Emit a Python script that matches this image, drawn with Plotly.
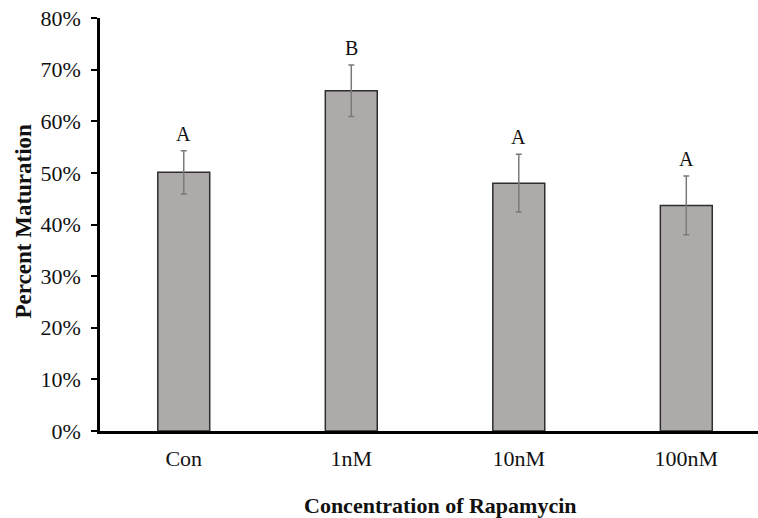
import plotly.graph_objects as go

categories = ["Con", "1nM", "10nM", "100nM"]
values = [0.501, 0.659, 0.480, 0.437]
errors = [0.042, 0.050, 0.056, 0.057]
letters = ["A", "B", "A", "A"]
y_ticks = [0, 0.1, 0.2, 0.3, 0.4, 0.5, 0.6, 0.7, 0.8]

FONT = "Liberation Serif, Times New Roman, serif"
W, H = 758, 518
L, R, T, B = 100, 0, 18, 87

fig = go.Figure()
fig.add_trace(go.Bar(
    x=list(range(len(categories))),
    y=values,
    marker=dict(color="#AEAAA9", line=dict(color="#2e2e2e", width=1.5)),
    error_y=dict(type="data", array=errors, visible=True, color="#7a7a7a",
                 thickness=1.5, width=3),
    width=0.31,
    hoverinfo="skip",
))

for i, (v, e, t) in enumerate(zip(values, errors, letters)):
    fig.add_annotation(x=i, y=v + e, xref="x", yref="y", text=t, showarrow=False,
                       yanchor="middle", yshift=17,
                       font=dict(family=FONT, size=20, color="#111"))

pw, ph = W - L - R, H - T - B
# x-axis title
fig.add_annotation(x=(441 - L) / pw, y=-(505 - (H - B)) / ph, xref="paper", yref="paper",
                   text="<b>Concentration of Rapamycin</b>", showarrow=False,
                   xanchor="center", yanchor="middle",
                   font=dict(family=FONT, size=22, color="#111"))
# y-axis title
fig.add_annotation(x=-(L - 23) / pw, y=0.5 + 3 / ph, xref="paper", yref="paper",
                   text="<b>Percent Maturation</b>", showarrow=False, textangle=-90,
                   xanchor="center", yanchor="middle",
                   font=dict(family=FONT, size=23, color="#111"))

fig.update_layout(
    width=W, height=H,
    margin=dict(l=L, r=R, t=T, b=B, autoexpand=False),
    paper_bgcolor="white", plot_bgcolor="white",
    showlegend=False,
    font=dict(family=FONT, size=22, color="#111"),
    xaxis=dict(
        tickmode="array", tickvals=list(range(len(categories))), ticktext=categories,
        range=[-0.5, 3.428], showline=True, linecolor="black", linewidth=2.5,
        ticks="", showgrid=False, zeroline=False, ticklabelstandoff=6, automargin=False,
        tickfont=dict(family=FONT, size=22, color="#111"),
    ),
    yaxis=dict(
        range=[0, 0.8], tickvals=y_ticks, tickformat=".0%",
        showline=True, linecolor="black", linewidth=2.5,
        ticks="outside", ticklen=6, tickwidth=2, tickcolor="black",
        showgrid=False, zeroline=False, ticklabelstandoff=6, automargin=False,
        tickfont=dict(family=FONT, size=22, color="#111"),
    ),
)

fig.write_html("out.html", config={"displayModeBar": False},
               post_script="document.body.style.margin='0';document.body.style.overflow='hidden';")
